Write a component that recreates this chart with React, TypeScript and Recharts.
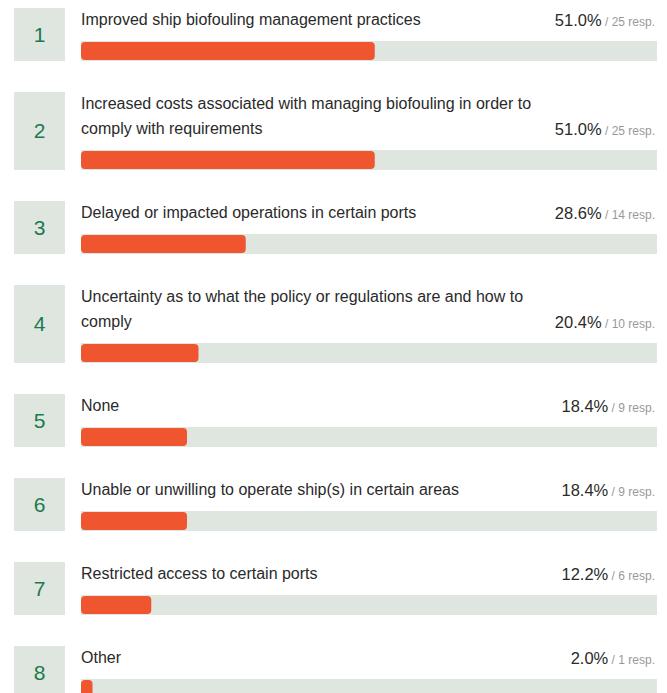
import { BarChart, Bar, XAxis, YAxis } from 'recharts';

const ranks = [1, 2, 3, 4, 5, 6, 7, 8];
const labels = [
  ['Improved ship biofouling management practices'],
  ['Increased costs associated with managing biofouling in order to', 'comply with requirements'],
  ['Delayed or impacted operations in certain ports'],
  ['Uncertainty as to what the policy or regulations are and how to', 'comply'],
  ['None'],
  ['Unable or unwilling to operate ship(s) in certain areas'],
  ['Restricted access to certain ports'],
  ['Other'],
];
const percents = [51.0, 51.0, 28.6, 20.4, 18.4, 18.4, 12.2, 2.0];
const responses = [25, 25, 14, 10, 9, 9, 6, 1];

const ORANGE = '#EF552F';
const TRACK = '#DFE6E0';
const GREEN = '#1B7A4D';

// background track, 1px taller than the bar on each side
const Track = (props: any) => {
  const { x, y, width, height } = props;
  return <rect x={x} y={y - 1} width={width} height={height + 2} fill={TRACK} />;
};

function Row({ idx }: { idx: number }) {
  const lines = labels[idx];
  const data = [{ name: String(ranks[idx]), pct: percents[idx] }];
  return (
    <div style={{ display: 'flex', marginBottom: 31 }}>
      <div
        style={{
          marginLeft: 6,
          width: 51,
          background: TRACK,
          display: 'flex',
          alignItems: 'center',
          justifyContent: 'center',
          color: GREEN,
          fontSize: 21,
        }}
      >
        {ranks[idx]}
      </div>
      <div style={{ marginLeft: 16, width: 576 }}>
        {lines.map((l, i) => (
          <div
            key={i}
            style={{ height: 25, lineHeight: '24px', display: 'flex', justifyContent: 'space-between', color: '#2a2a2a', fontSize: 16 }}
          >
            <span>{l}</span>
            {i === lines.length - 1 && (
              <span style={{ paddingRight: 2 }}>
                <span style={{ fontSize: 16.5 }}>{percents[idx].toFixed(1)}%</span>
                <span style={{ fontSize: 12, color: '#999' }}> / {responses[idx]} resp.</span>
              </span>
            )}
          </div>
        ))}
        <div style={{ marginTop: 8 }}>
          <BarChart width={576} height={20} data={data} layout="vertical" margin={{ top: 0, right: 0, bottom: 0, left: 0 }}>
            <XAxis type="number" domain={[0, 100]} hide />
            <YAxis type="category" dataKey="name" hide />
            <Bar dataKey="pct" fill={ORANGE} barSize={18} radius={4} background={<Track />} isAnimationActive={false} />
          </BarChart>
        </div>
      </div>
    </div>
  );
}

export default function App() {
  return (
    <div style={{ width: 651, height: 685, overflow: 'hidden', fontFamily: '"Liberation Sans", Arial, sans-serif' }}>
      {ranks.map((_, i) => (
        <Row key={i} idx={i} />
      ))}
    </div>
  );
}
